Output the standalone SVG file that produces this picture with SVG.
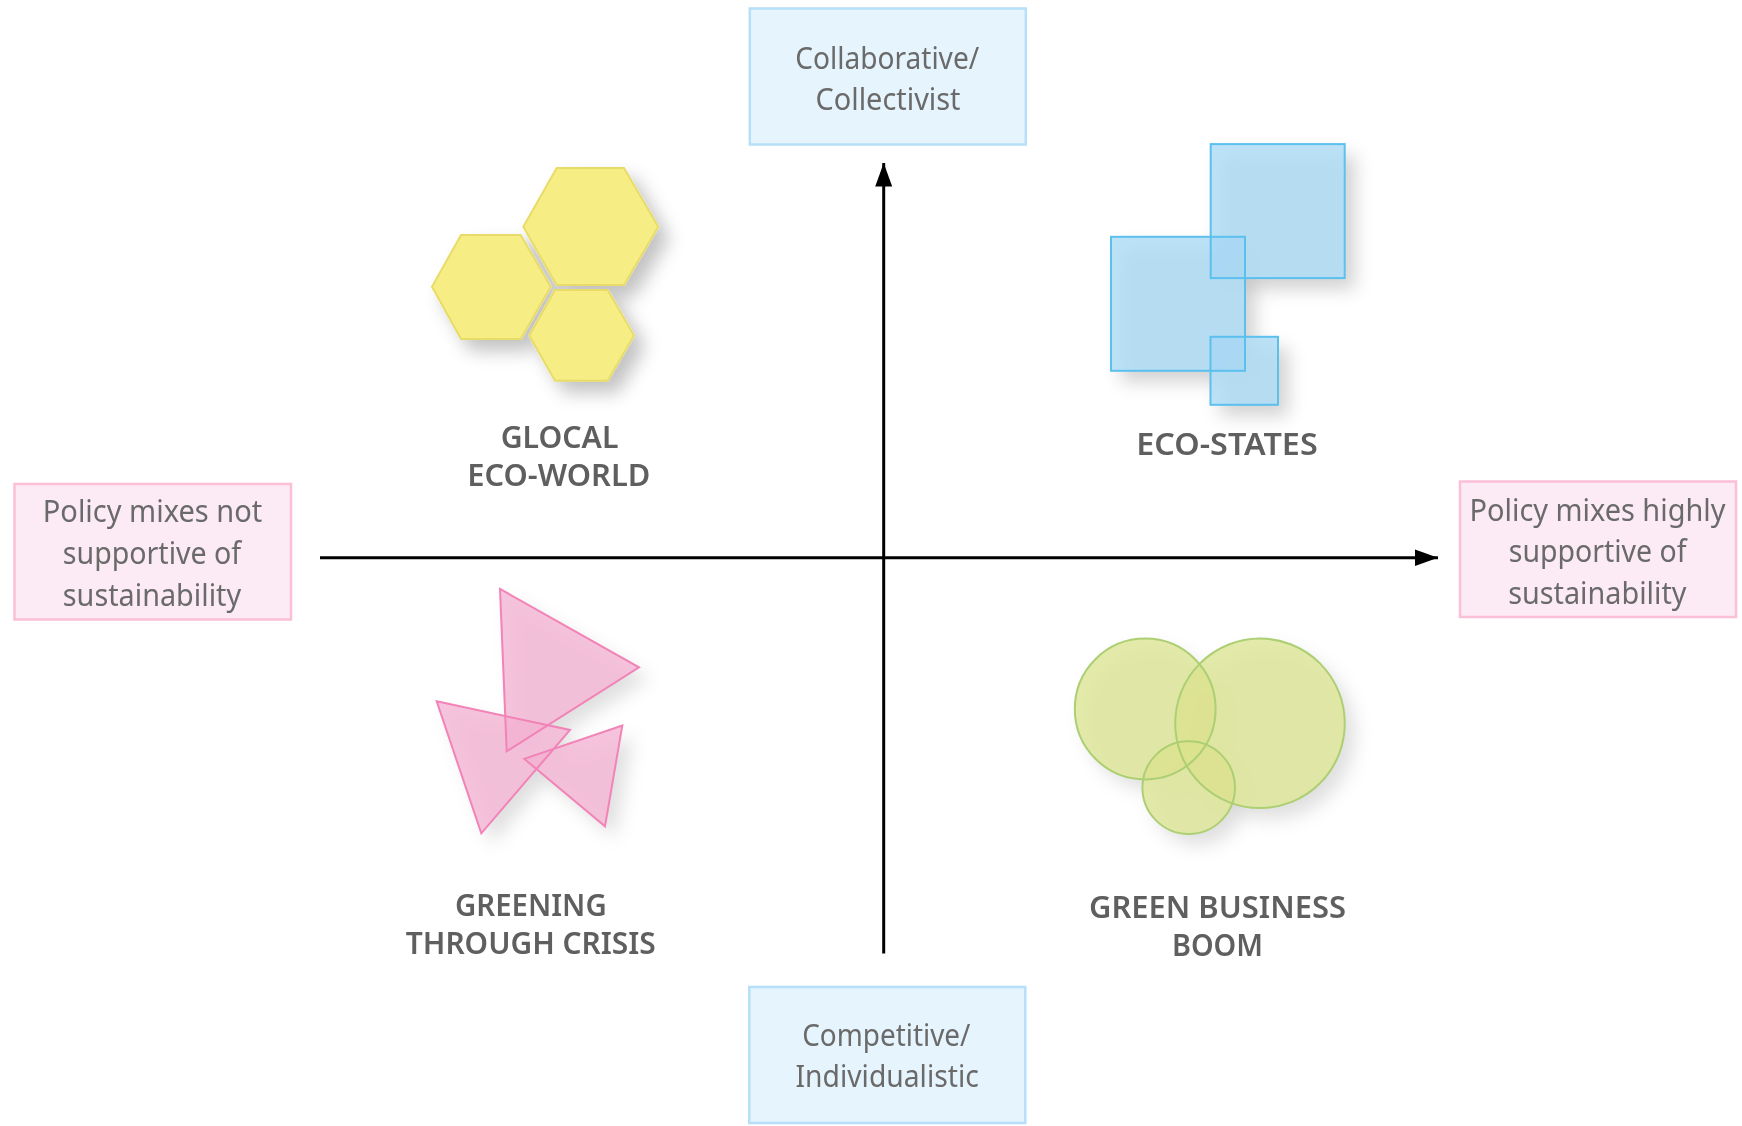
<svg xmlns="http://www.w3.org/2000/svg" width="1742" height="1126" viewBox="0 0 1742 1126">
<style>
text{font-family:"Noto Sans","Liberation Sans",sans-serif;}
.axis{fill:#6a6a6a;font-size:31px;}
.lab{fill:#5e5e5e;font-size:30px;font-weight:600;}
.ax{fill:#e6f4fd;stroke:#b5e0f8;stroke-width:2.5;}
.pk{fill:#fcebf4;stroke:#fbbfd8;stroke-width:2.5;}
.conn{stroke:#000;stroke-width:3;fill:none;}
.hex{fill:#f7ed85;stroke:#e8dc68;stroke-width:2;}
.sqf{fill:#a6d8f4;fill-opacity:.74;}
.sqs{fill:none;stroke:#5cc0ee;stroke-width:2;}
.trf{fill:#f3afd1;fill-opacity:.74;}
.trs{fill:none;stroke:#f283b7;stroke-width:2;}
.cif{fill:#dae38c;fill-opacity:.74;}
.cis{fill:none;stroke:#adcf73;stroke-width:2;}
.soft{filter:url(#soft);}
</style>
<defs>
<filter id="soft" filterUnits="userSpaceOnUse" x="0" y="0" width="1742" height="1126"><feGaussianBlur stdDeviation=".55"/></filter>
<filter id="sh" x="-20%" y="-20%" width="150%" height="150%"><feDropShadow dx="10" dy="11" stdDeviation="9" flood-color="#000" flood-opacity=".24"/></filter>
<filter id="shs" x="-20%" y="-20%" width="150%" height="150%"><feDropShadow dx="10" dy="11" stdDeviation="9" flood-color="#000" flood-opacity=".17"/></filter>
<marker id="ah" markerUnits="userSpaceOnUse" markerWidth="24" markerHeight="18" refX="23.5" refY="8.5" orient="auto"><polygon points="0,0 23.5,8.5 0,17" fill="#000"/></marker>
</defs>
<rect width="1742" height="1126" fill="#fff"/>
<g id="connectors" class="soft">
<path class="conn" d="M320 557.8H1438" marker-end="url(#ah)"/>
<path class="conn" d="M883.7 953.5V163" marker-end="url(#ah)"/>
</g>
<g id="node-collaborative" class="soft">
<rect class="ax" x="749.8" y="8.5" width="276" height="136"/>
<text class="axis" x="795.2" y="68.8" textLength="184" lengthAdjust="spacingAndGlyphs">Collaborative/</text>
<text class="axis" x="815.5" y="109.8" textLength="145" lengthAdjust="spacingAndGlyphs">Collectivist</text>
</g>
<g id="node-competitive" class="soft">
<rect class="ax" x="749.3" y="987" width="276" height="136"/>
<text class="axis" x="802.2" y="1046.3" textLength="168.3" lengthAdjust="spacingAndGlyphs">Competitive/</text>
<text class="axis" x="795.5" y="1087" textLength="183.3" lengthAdjust="spacingAndGlyphs">Individualistic</text>
</g>
<g id="node-not-supportive" class="soft">
<rect class="pk" x="14.5" y="484" width="276.5" height="135.5"/>
<text class="axis" x="42.8" y="522.4" textLength="219.4" lengthAdjust="spacingAndGlyphs">Policy mixes not</text>
<text class="axis" x="62.8" y="564.3" textLength="178.4" lengthAdjust="spacingAndGlyphs">supportive of</text>
<text class="axis" x="62.8" y="605.7" textLength="178.4" lengthAdjust="spacingAndGlyphs">sustainability</text>
</g>
<g id="node-highly-supportive" class="soft">
<rect class="pk" x="1460" y="481.5" width="276" height="135.5"/>
<text class="axis" x="1469.5" y="520.7" textLength="256" lengthAdjust="spacingAndGlyphs">Policy mixes highly</text>
<text class="axis" x="1508.8" y="562.4" textLength="177.7" lengthAdjust="spacingAndGlyphs">supportive of</text>
<text class="axis" x="1508.2" y="604" textLength="178.3" lengthAdjust="spacingAndGlyphs">sustainability</text>
</g>
<g id="node-glocal-eco-world" class="soft">
<g filter="url(#sh)" transform="translate(0 .8)">
<polygon class="hex" points="556.7,167.3 624,167.3 658.3,226 624,284.3 556.7,284.3 523.3,226"/>
<polygon class="hex" points="461,234.3 520.7,234.3 550.7,286 520.7,338.3 461,338.3 432,286"/>
<polygon class="hex" points="555,289.3 607.7,289.3 634,334.7 607.7,380 555,380 529.3,334.7"/>
</g>
<text class="lab" x="500.7" y="447.7" textLength="117.7" lengthAdjust="spacingAndGlyphs">GLOCAL</text>
<text class="lab" x="467.3" y="486" textLength="183" lengthAdjust="spacingAndGlyphs">ECO-WORLD</text>
</g>
<g id="node-eco-states" class="soft">
<g transform="translate(0 .8)">
<g filter="url(#sh)">
<rect class="sqf" x="1210.7" y="143.3" width="134" height="134"/>
<rect class="sqf" x="1111" y="236" width="134" height="134"/>
<rect class="sqf" x="1210.5" y="336" width="67.5" height="68"/>
</g>
<rect class="sqs" x="1210.7" y="143.3" width="134" height="134"/>
<rect class="sqs" x="1111" y="236" width="134" height="134"/>
<rect class="sqs" x="1210.5" y="336" width="67.5" height="68"/>
</g>
<text class="lab" x="1136.3" y="455" textLength="181.4" lengthAdjust="spacingAndGlyphs">ECO-STATES</text>
</g>
<g id="node-greening-through-crisis" class="soft">
<g transform="translate(0 .6)">
<g filter="url(#shs)">
<polygon class="trf" points="500,588.3 639,666.7 506.7,750.7"/>
<polygon class="trf" points="436.7,700.7 570,729.3 481.3,832.7"/>
<polygon class="trf" points="622.3,725 605,825.7 524.3,758.3"/>
</g>
<polygon class="trs" points="500,588.3 639,666.7 506.7,750.7"/>
<polygon class="trs" points="436.7,700.7 570,729.3 481.3,832.7"/>
<polygon class="trs" points="622.3,725 605,825.7 524.3,758.3"/>
</g>
<text class="lab" x="455" y="916" textLength="151.7" lengthAdjust="spacingAndGlyphs">GREENING</text>
<text class="lab" x="405.8" y="953.7" textLength="250" lengthAdjust="spacingAndGlyphs">THROUGH CRISIS</text>
</g>
<g id="node-green-business-boom" class="soft">
<g transform="translate(0 .8)">
<g filter="url(#shs)">
<circle class="cif" cx="1145.2" cy="708.2" r="70.4"/>
<circle class="cif" cx="1260" cy="722.5" r="84.8"/>
<circle class="cif" cx="1188.7" cy="786.8" r="46.3"/>
</g>
<circle class="cis" cx="1145.2" cy="708.2" r="70.4"/>
<circle class="cis" cx="1260" cy="722.5" r="84.8"/>
<circle class="cis" cx="1188.7" cy="786.8" r="46.3"/>
</g>
<text class="lab" x="1089" y="917.8" textLength="257" lengthAdjust="spacingAndGlyphs">GREEN BUSINESS</text>
<text class="lab" x="1172" y="956" textLength="91" lengthAdjust="spacingAndGlyphs">BOOM</text>
</g>
</svg>
